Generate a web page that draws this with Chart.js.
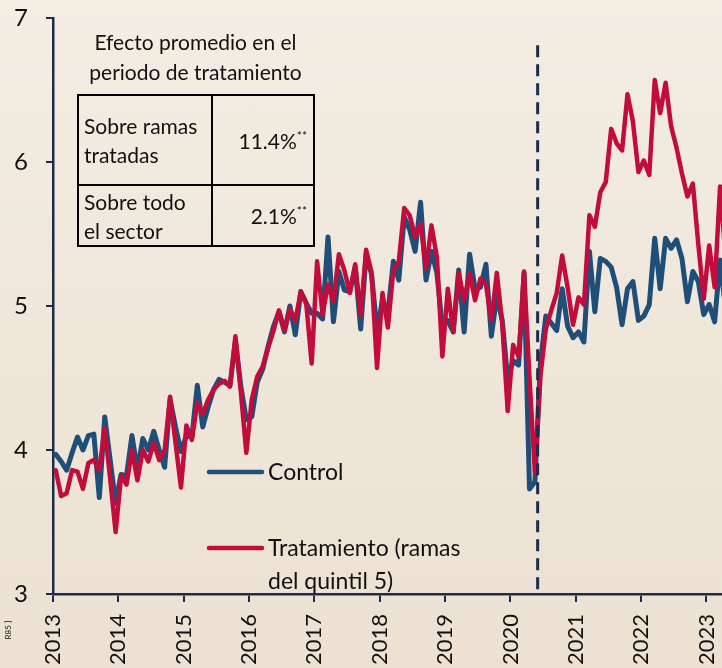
<!DOCTYPE html>
<html lang="es">
<head>
<meta charset="utf-8">
<script src="https://cdn.jsdelivr.net/npm/chart.js@4.4.1/dist/chart.umd.min.js"></script>
<style>
  html, body { margin: 0; padding: 0; }
  body {
    width: 722px; height: 668px; overflow: hidden; position: relative;
    background: linear-gradient(#f3ede3, #ece1d2);
    font-family: Lato, "Open Sans", sans-serif; color: #111;
  }
  #wrap { position: absolute; left: 0; top: 0; width: 745px; height: 668px; }
  #titulo {
    position: absolute; left: 77px; top: 27px; width: 237px;
    text-align: center; font-size: 21px; line-height: 30px;
  }
  #tabla {
    position: absolute; left: 77px; top: 94px; width: 238px;
    border-collapse: collapse; font-size: 21px; line-height: 29px;
  }
  #tabla td { border: 2.5px solid #000; padding: 0 5px; vertical-align: middle; }
  #tabla td.num { text-align: right; padding-right: 6px; }
  #tabla sup { font-size: 12px; vertical-align: 9px; line-height: 0; }
</style>
</head>
<body>
<div id="wrap"><canvas id="grafic"></canvas></div>
<div id="titulo">Efecto promedio en el<br>periodo de tratamiento</div>
<table id="tabla">
  <tr style="height:90px"><td style="width:122px">Sobre ramas<br>tratadas</td><td class="num">11.4%<sup>**</sup></td></tr>
  <tr style="height:61px"><td>Sobre todo<br>el sector</td><td class="num">2.1%<sup>**</sup></td></tr>
</table>
<script>
// Dades mensuals des de gener 2013 (index 0) fins abril 2023
const anys = ['2013','2014','2015','2016','2017','2018','2019','2020','2021','2022','2023'];

const control = [
  3.97, 3.92, 3.86, 3.98, 4.09, 4.00, 4.10, 4.11, 3.67, 4.23, 3.93, 3.63,
  3.83, 3.82, 4.10, 3.86, 4.08, 4.00, 4.13, 4.00, 3.88, 4.35, 4.16, 3.99,
  4.10, 4.09, 4.45, 4.16, 4.30, 4.42, 4.49, 4.47, 4.45, 4.76, 4.44, 4.21,
  4.23, 4.47, 4.56, 4.72, 4.86, 4.96, 4.82, 5.00, 4.80, 5.10, 5.02, 4.95,
  4.95, 4.91, 5.48, 4.89, 5.24, 5.11, 5.10, 5.27, 4.84, 5.36, 5.22, 4.83,
  5.04, 4.95, 5.31, 5.18, 5.62, 5.53, 5.38, 5.72, 5.18, 5.38, 5.23, 4.85,
  4.90, 4.82, 5.25, 4.82, 5.36, 5.12, 5.13, 5.29, 4.79, 5.07, 4.90, 4.49,
  4.62, 4.59, 5.23, 3.73, 3.78, 4.60, 4.93, 4.88, 4.83, 5.12, 4.86, 4.78,
  4.82, 4.75, 5.38, 4.96, 5.33, 5.31, 5.27, 5.13, 4.87, 5.12, 5.17, 4.90,
  4.93, 5.01, 5.47, 5.12, 5.47, 5.40, 5.46, 5.33, 5.03, 5.24, 5.17, 4.94,
  5.01, 4.89, 5.32, 4.98
];

const tratamiento = [
  3.86, 3.68, 3.70, 3.86, 3.85, 3.73, 3.91, 3.93, 3.86, 4.15, 3.80, 3.43,
  3.82, 3.76, 4.00, 3.79, 4.00, 3.92, 4.05, 3.93, 4.00, 4.37, 4.05, 3.74,
  4.17, 4.07, 4.33, 4.25, 4.35, 4.42, 4.46, 4.48, 4.44, 4.79, 4.40, 3.98,
  4.35, 4.51, 4.58, 4.71, 4.83, 4.97, 4.83, 4.98, 4.90, 5.10, 5.02, 4.60,
  5.31, 4.94, 5.15, 5.03, 5.36, 5.25, 5.09, 5.29, 4.94, 5.39, 5.23, 4.57,
  5.09, 4.85, 5.25, 5.31, 5.68, 5.63, 5.48, 5.57, 5.26, 5.56, 5.34, 4.65,
  5.12, 4.82, 5.23, 5.04, 5.23, 5.04, 5.19, 5.15, 4.90, 5.23, 4.88, 4.27,
  4.73, 4.65, 5.24, 4.50, 3.84, 4.51, 4.84, 4.97, 5.09, 5.35, 5.13, 4.87,
  5.06, 5.01, 5.63, 5.55, 5.79, 5.86, 6.23, 6.13, 6.08, 6.47, 6.28, 5.93,
  6.01, 5.91, 6.57, 6.34, 6.55, 6.25, 6.10, 5.92, 5.76, 5.85, 5.43, 5.05,
  5.42, 5.13, 5.83, 5.34
];

// inici del tractament (entre maig i juny 2020)
const inicTractament = 88.5;

const BLAU = '#1f4e79';
const VERMELL = '#c20c3b';
const EIX = '#1c2c4a';

const punts = arr => arr.map((v, i) => ({ x: i, y: v }));

// Llegenda, línia discontínua i nota lateral
const extres = {
  id: 'extres',
  afterDatasetsDraw(chart) {
    const { ctx, scales: { x, y } } = chart;
    const px = x.getPixelForValue(inicTractament);
    ctx.save();
    ctx.strokeStyle = EIX;
    ctx.lineWidth = 3;
    ctx.setLineDash([12, 7]);
    ctx.beginPath();
    ctx.moveTo(px, y.getPixelForValue(6.81));
    ctx.lineTo(px, y.bottom);
    ctx.stroke();
    ctx.restore();
  },
  afterDraw(chart) {
    const ctx = chart.ctx;
    ctx.save();
    ctx.lineCap = 'round';
    ctx.lineWidth = 4.5;
    ctx.strokeStyle = BLAU;
    ctx.beginPath(); ctx.moveTo(209, 472); ctx.lineTo(262, 472); ctx.stroke();
    ctx.strokeStyle = VERMELL;
    ctx.beginPath(); ctx.moveTo(209, 548); ctx.lineTo(262, 548); ctx.stroke();
    ctx.fillStyle = '#111';
    ctx.font = '23px Lato';
    ctx.textBaseline = 'middle';
    ctx.fillText('Control', 268, 473);
    ctx.fillText('Tratamiento (ramas', 268, 549);
    ctx.fillText('del quintil 5)', 268, 582);
    // nota tallada a la cantonada
    ctx.translate(8, 630);
    ctx.rotate(-Math.PI / 2);
    ctx.font = '8px Lato';
    ctx.textAlign = 'center';
    ctx.fillText('R85 ]', 0, 0);
    ctx.restore();
  }
};

function dibuixar() {
  new Chart(document.getElementById('grafic'), {
    type: 'line',
    data: {
      datasets: [
        { label: 'Control', data: punts(control), borderColor: BLAU, borderWidth: 5, order: 1 },
        { label: 'Tratamiento (ramas del quintil 5)', data: punts(tratamiento), borderColor: VERMELL, borderWidth: 4.5, order: 0 }
      ]
    },
    options: {
      responsive: true,
      maintainAspectRatio: false,
      animation: false,
      layout: { padding: { top: 18, right: 4, left: 0, bottom: 0 } },
      elements: {
        point: { radius: 0 },
        line: { tension: 0, borderJoinStyle: 'round', borderCapStyle: 'round' }
      },
      plugins: { legend: { display: false }, tooltip: { enabled: false } },
      scales: {
        x: {
          type: 'linear',
          min: -0.5,
          max: 123.5,
          afterBuildTicks: axis => { axis.ticks = anys.map((a, i) => ({ value: i * 12 - 0.5 })); },
          afterFit: scale => { scale.height = 74; },
          ticks: {
            autoSkip: false, minRotation: 90, maxRotation: 90, padding: 12,
            color: '#111', font: { size: 22, family: 'Lato' },
            callback: (v, i) => anys[i]
          },
          grid: { drawOnChartArea: false, drawTicks: true, tickLength: 8, color: EIX, lineWidth: 2 },
          border: { color: EIX, width: 2.5 }
        },
        y: {
          min: 3,
          max: 7,
          afterFit: scale => { scale.width = 53; scale.paddingTop = 0; scale.paddingBottom = 0; },
          ticks: { stepSize: 1, padding: 18, color: '#111', font: { size: 24, family: 'Lato' } },
          grid: { drawOnChartArea: false, drawTicks: true, tickLength: 7, color: EIX, lineWidth: 2 },
          border: { color: EIX, width: 2.5 }
        }
      }
    },
    plugins: [extres]
  });
}

document.fonts.load('23px Lato').then(dibuixar, dibuixar);
</script>
</body>
</html>
